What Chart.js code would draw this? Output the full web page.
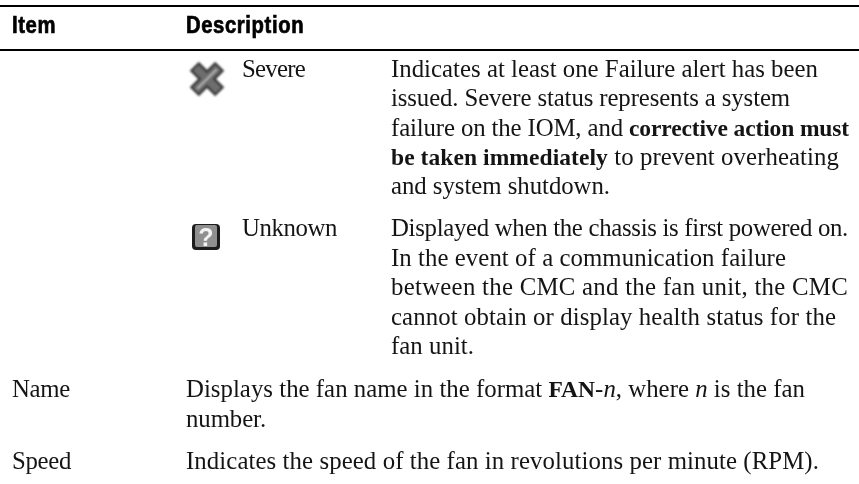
<!DOCTYPE html>
<html>
<head>
<meta charset="utf-8">
<title>Fan status table</title>
<script src="https://cdn.jsdelivr.net/npm/chart.js@4"></script>
<style>
    html, body { margin: 0; padding: 0; background: #fff; }
    #wrap { width: 859px; height: 484px; }
</style>
</head>
<body>
<div id="wrap"><canvas id="table"></canvas></div>
<script>
// header
const headers = ["Item", "Description"];
// item column
const items = ["Name", "Speed"];
// status column
const statuses = ["Severe", "Unknown"];

// text runs: r = regular, b = bold, i = italic
const severeLines = [
    [["Indicates at least one Failure alert has been", "r"]],
    [["issued. Severe status represents a system", "r"]],
    [["failure on the IOM, and ", "r"], ["corrective action must", "b"]],
    [["be taken immediately", "b"], [" to prevent overheating", "r"]],
    [["and system shutdown.", "r"]],
];
const unknownLines = [
    [["Displayed when the chassis is first powered on.", "r"]],
    [["In the event of a communication failure", "r"]],
    [["between the CMC and the fan unit, the CMC", "r"]],
    [["cannot obtain or display health status for the", "r"]],
    [["fan unit.", "r"]],
];
const nameLines = [
    [["Displays the fan name in the format ", "r"], ["FAN", "b"], ["-", "r"], ["n", "i"], [", where ", "r"], ["n", "i"], [" is the fan", "r"]],
    [["number.", "r"]],
];
const speedLines = [
    [["Indicates the speed of the fan in revolutions per minute (RPM).", "r"]],
];

// right edge of each line in the reference, the serif here is wider or narrower per line
const severeEnds = [818, 790, 849, 839, 610];
const unknownEnds = [848, 786, 848, 836, 474];
const nameEnds = [805, 266];
const speedEnds = [819];

const SERIF = '"Liberation Serif", serif';
const HEAD = '"Liberation Sans", sans-serif';
const INK = "#141414";

function fontFor(style) {
    if (style === "b") return "bold 23.5px " + SERIF;
    if (style === "i") return "italic 24.8px " + SERIF;
    return "24.8px " + SERIF;
}

function runsWidth(ctx, runs) {
    let w = 0;
    runs.forEach((run) => {
        ctx.font = fontFor(run[1]);
        w += ctx.measureText(run[0]).width;
    });
    return w;
}

function drawRuns(ctx, runs, x, y, end) {
    ctx.letterSpacing = "0px";
    const chars = runs.reduce((n, run) => n + run[0].length, 0);
    const spacing = (end - x - runsWidth(ctx, runs)) / chars;
    ctx.letterSpacing = spacing + "px";
    runs.forEach((run) => {
        ctx.font = fontFor(run[1]);
        ctx.fillText(run[0], x, y);
        x += ctx.measureText(run[0]).width;
    });
    ctx.letterSpacing = "0px";
}

function drawBlock(ctx, lines, ends, x, y, step) {
    lines.forEach((runs, i) => drawRuns(ctx, runs, x, y + i * step, ends[i]));
}

function drawSevere(ctx, cx, cy) {
    ctx.save();
    ctx.filter = "blur(0.8px)";
    ctx.translate(cx, cy);
    [Math.PI / 4, -Math.PI / 4].forEach((a) => {
        ctx.save();
        ctx.rotate(a);
        ctx.fillStyle = "#3c3c3c";
        ctx.fillRect(-18, -6.5, 36, 13);
        ctx.restore();
    });
    [Math.PI / 4, -Math.PI / 4].forEach((a) => {
        ctx.save();
        ctx.rotate(a);
        ctx.fillStyle = "#6e6e6e";
        ctx.fillRect(-16, -4, 32, 8);
        ctx.restore();
    });
    ctx.rotate(-Math.PI / 4);
    ctx.fillStyle = "#bdbdbd";
    ctx.fillRect(-14, -1, 28, 2);
    ctx.restore();
}

function drawUnknown(ctx, x, y) {
    const w = 28, h = 26;
    ctx.save();
    ctx.filter = "blur(0.6px)";
    ctx.fillStyle = "#1c1c1c";
    ctx.beginPath();
    ctx.roundRect(x, y, w, h, 4);
    ctx.fill();
    ctx.fillStyle = "#8f8f8f";
    ctx.beginPath();
    ctx.roundRect(x + 3, y + 1, w - 6, h - 4, 2);
    ctx.fill();
    ctx.fillStyle = "#f2f2f2";
    ctx.font = "bold 25px " + HEAD;
    ctx.textAlign = "center";
    ctx.fillText("?", x + w / 2, y + 22);
    ctx.restore();
}

// condensed heavy look for the header row
function drawHeader(ctx, text, x, y) {
    ctx.save();
    ctx.translate(x, y);
    ctx.scale(0.88, 1);
    ctx.font = "bold 23px " + HEAD;
    ctx.letterSpacing = "0.7px";
    ctx.strokeStyle = "#000";
    ctx.lineWidth = 0.7;
    ctx.fillText(text, 0, 0);
    ctx.strokeText(text, 0, 0);
    ctx.restore();
}

const tablePlugin = {
    id: "tablePlugin",
    afterDraw(chart) {
        const ctx = chart.ctx;
        const sx = chart.scales.x;
        const sy = chart.scales.y;
        const px = (v) => sx.getPixelForValue(v);
        const py = (v) => sy.getPixelForValue(v);

        ctx.save();
        ctx.textBaseline = "alphabetic";
        ctx.textAlign = "left";

        ctx.fillStyle = "#000";
        ctx.fillRect(px(0), py(5), 859, 2);
        ctx.fillRect(px(0), py(49), 859, 2);

        drawHeader(ctx, headers[0], px(12), py(33));
        drawHeader(ctx, headers[1], px(186), py(33));

        ctx.fillStyle = INK;
        drawRuns(ctx, [[statuses[0], "r"]], px(242), py(77), px(305));
        drawRuns(ctx, [[statuses[1], "r"]], px(242), py(236), px(337));
        drawRuns(ctx, [[items[0], "r"]], px(12), py(397), px(70));
        drawRuns(ctx, [[items[1], "r"]], px(12), py(469), px(71));

        drawBlock(ctx, severeLines, severeEnds, px(391), py(77), 29.3);
        drawBlock(ctx, unknownLines, unknownEnds, px(391), py(236), 29.5);
        drawBlock(ctx, nameLines, nameEnds, px(186), py(397), 29.5);
        drawBlock(ctx, speedLines, speedEnds, px(186), py(469), 29.5);

        drawSevere(ctx, px(207), py(79));
        drawUnknown(ctx, px(192), py(224));
        ctx.restore();
    },
};

new Chart(document.getElementById("table"), {
    type: "scatter",
    data: { datasets: [{ data: [] }] },
    options: {
        responsive: true,
        maintainAspectRatio: false,
        animation: false,
        layout: { padding: 0 },
        plugins: { legend: { display: false }, tooltip: { enabled: false } },
        scales: {
            x: { type: "linear", min: 0, max: 859, display: false },
            y: { type: "linear", min: 0, max: 484, reverse: true, display: false },
        },
    },
    plugins: [tablePlugin],
});
</script>
</body>
</html>
